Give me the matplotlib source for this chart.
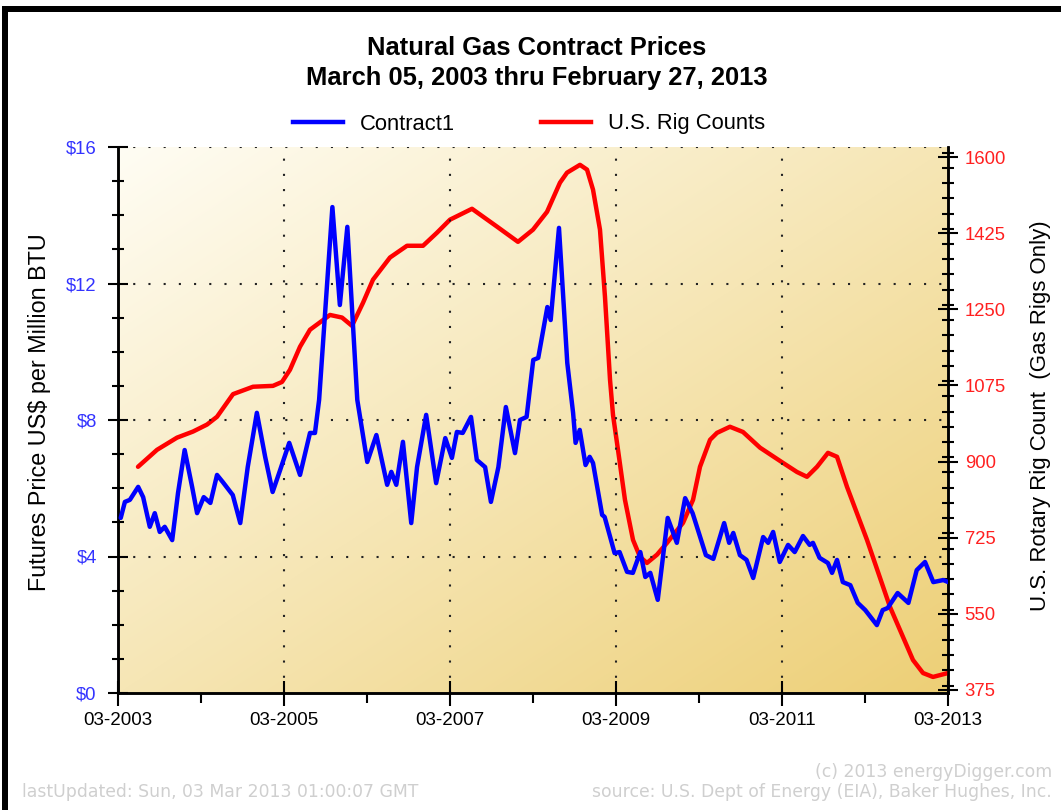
import numpy as np
import matplotlib
matplotlib.use("Agg")
import matplotlib.pyplot as plt
from matplotlib.patches import Rectangle
from matplotlib.lines import Line2D
from matplotlib.ticker import MultipleLocator, FixedLocator

# ---------------- data ----------------
rig_year = [2003.408, 2003.637, 2003.878, 2004.071, 2004.239, 2004.360, 2004.553, 2004.794,
            2005.034, 2005.143, 2005.239, 2005.360, 2005.480, 2005.565, 2005.721, 2005.866,
            2005.986, 2006.119, 2006.239, 2006.444, 2006.649, 2006.842, 2007.010, 2007.167,
            2007.432, 2007.733, 2007.986, 2008.167, 2008.336, 2008.492, 2008.577, 2008.733,
            2008.818, 2008.890, 2008.974, 2009.034, 2009.095, 2009.131, 2009.191, 2009.275,
            2009.372, 2009.456, 2009.540, 2009.661, 2009.781, 2009.974, 2010.095, 2010.179,
            2010.300, 2010.384, 2010.540, 2010.697, 2010.902, 2011.179, 2011.348, 2011.468,
            2011.589, 2011.721, 2011.830, 2011.950, 2012.191, 2012.468, 2012.745, 2012.866,
            2012.986, 2013.167]
rig_count = [888, 927, 955, 969, 985, 1003, 1055, 1072,
             1074, 1083, 1111, 1164, 1203, 1215, 1237, 1231,
             1212, 1265, 1318, 1369, 1396, 1396, 1426, 1456,
             1481, 1440, 1405, 1433, 1474, 1541, 1564, 1582,
             1571, 1525, 1433, 1279, 1088, 1007, 927, 812,
             720, 681, 667, 686, 713, 759, 812, 888,
             950, 966, 980, 968, 932, 897, 876, 865,
             888, 920, 911, 842, 720, 566, 444, 414,
             405, 414]

price_year = [2003.20, 2003.25, 2003.31, 2003.41, 2003.47, 2003.55, 2003.61, 2003.67,
              2003.73, 2003.82, 2003.89, 2003.97, 2004.06, 2004.12, 2004.20, 2004.28,
              2004.36, 2004.43, 2004.55, 2004.64, 2004.73, 2004.84, 2004.94, 2005.03,
              2005.12, 2005.23, 2005.36, 2005.48, 2005.54, 2005.59, 2005.75, 2005.84,
              2005.93, 2006.05, 2006.17, 2006.28, 2006.41, 2006.46, 2006.52, 2006.60,
              2006.70, 2006.77, 2006.88, 2007.00, 2007.11, 2007.19, 2007.25, 2007.32,
              2007.42, 2007.49, 2007.59, 2007.66, 2007.75, 2007.84, 2007.95, 2008.01,
              2008.09, 2008.17, 2008.23, 2008.34, 2008.38, 2008.48, 2008.58, 2008.65,
              2008.68, 2008.73, 2008.80, 2008.85, 2008.89, 2009.00, 2009.03, 2009.15,
              2009.21, 2009.30, 2009.37, 2009.46, 2009.52, 2009.58, 2009.67, 2009.79,
              2009.90, 2010.00, 2010.09, 2010.25, 2010.34, 2010.47, 2010.53, 2010.58,
              2010.66, 2010.74, 2010.82, 2010.94, 2011.00, 2011.06, 2011.14, 2011.24,
              2011.32, 2011.42, 2011.50, 2011.54, 2011.62, 2011.72, 2011.77, 2011.83,
              2011.90, 2011.99, 2012.08, 2012.17, 2012.31, 2012.38, 2012.44, 2012.56,
              2012.69, 2012.79, 2012.89, 2012.99, 2013.11, 2013.17]
price = [5.13, 5.60, 5.66, 6.04, 5.74, 4.87, 5.27, 4.72,
         4.87, 4.48, 5.86, 7.12, 6.04, 5.27, 5.74, 5.57,
         6.39, 6.18, 5.80, 4.98, 6.62, 8.21, 6.92, 5.89,
         6.53, 7.33, 6.39, 7.62, 7.62, 8.59, 14.24, 11.37,
         13.66, 8.59, 6.77, 7.56, 6.10, 6.48, 6.10, 7.36,
         4.98, 6.62, 8.15, 6.15, 7.47, 6.89, 7.65, 7.62,
         8.09, 6.83, 6.62, 5.60, 6.62, 8.38, 7.03, 8.00,
         8.09, 9.76, 9.82, 11.31, 10.93, 13.63, 9.67, 8.21,
         7.33, 7.71, 6.68, 6.92, 6.74, 5.22, 5.16, 4.10,
         4.13, 3.55, 3.52, 4.13, 3.40, 3.52, 2.73, 5.13,
         4.40, 5.71, 5.27, 4.04, 3.93, 4.98, 4.40, 4.69,
         4.04, 3.90, 3.37, 4.57, 4.40, 4.72, 3.84, 4.34,
         4.13, 4.60, 4.34, 4.40, 3.96, 3.81, 3.52, 3.90,
         3.25, 3.16, 2.64, 2.43, 1.99, 2.43, 2.49, 2.93,
         2.64, 3.60, 3.84, 3.25, 3.31, 3.25]

x_major = [2003.167, 2005.167, 2007.167, 2009.167, 2011.167, 2013.167]
x_labels = ["03-2003", "03-2005", "03-2007", "03-2009", "03-2011", "03-2013"]
x_minor = [2004.167, 2006.167, 2008.167, 2010.167, 2012.167]
left_ticks = [0, 4, 8, 12, 16]
left_labels = ["$0", "$4", "$8", "$12", "$16"]
right_ticks = [375, 550, 725, 900, 1075, 1250, 1425, 1600]

title = "Natural Gas Contract Prices\nMarch 05, 2003 thru February 27, 2013"

# ---------------- figure ----------------
W, H = 1061, 810
fig = plt.figure(figsize=(W / 100, H / 100), dpi=100)
fig.patch.set_facecolor("white")
plt.rcParams['font.family'] = ['Liberation Sans', 'DejaVu Sans']

# black frame (top & left)
fig.patches.append(Rectangle((2 / W, 0), 6 / W, 1 - 6 / H, transform=fig.transFigure,
                             facecolor="black", edgecolor="none", zorder=0))
fig.patches.append(Rectangle((2 / W, 1 - 12 / H), 1, 6 / H, transform=fig.transFigure,
                             facecolor="black", edgecolor="none", zorder=0))

ax = fig.add_axes([118 / W, 1 - 693 / H, (948 - 118) / W, (693 - 147) / H])
ax2 = ax.twinx()
ax.set_zorder(ax2.get_zorder() + 1)
ax.patch.set_visible(False)
ax2.patch.set_visible(False)

# gradient background (light top-left -> golden bottom-right)
n = 256
gx, gy = np.meshgrid(np.linspace(0, 1, n), np.linspace(0, 1, n))
g = np.clip((gx + gy) / 2.0, 0, 1)
c0 = np.array([255, 253, 244]) / 255.0
c1 = np.array([237, 207, 118]) / 255.0
img = c0[None, None, :] * (1 - g[..., None]) + c1[None, None, :] * g[..., None]
ax2.imshow(img, extent=[0, 1, 0, 1], transform=ax2.transAxes, aspect="auto",
           origin="upper", zorder=0, interpolation="bilinear")

ax.set_xlim(2003.167, 2013.167)
ax.set_ylim(0, 16)
ax2.set_ylim(375 - 3 * 175 / 76.1, 1600 + 10 * 175 / 76.1)

# grid lines (dotted)
for yv in [4, 8, 12, 16]:
    ax.axhline(yv, color="#222222", lw=1.5, ls=(0, (1, 6.3)), zorder=1)
for xv in x_major[1:-1]:
    ax.axvline(xv, color="#222222", lw=1.5, ls=(0, (1, 6.3)), zorder=1)

# lines
ax2.plot(rig_year, rig_count, color="#ff0000", lw=3.2, solid_joinstyle="round",
         solid_capstyle="round", zorder=3)
ax.plot(price_year, price, color="#0000ff", lw=3.2, solid_joinstyle="round",
        solid_capstyle="round", zorder=4)

# spines
for a in (ax, ax2):
    a.spines["top"].set_visible(False)
    for s in ("left", "right", "bottom"):
        a.spines[s].set_linewidth(1.8)
        a.spines[s].set_color("black")

# ticks
ax.xaxis.set_major_locator(FixedLocator(x_major))
ax.set_xticklabels(x_labels)
ax.xaxis.set_minor_locator(FixedLocator(x_minor))
ax.tick_params(axis="x", which="major", direction="inout", length=18, width=1.5,
               labelsize=13.5, pad=4.5, colors="black")
ax.tick_params(axis="x", which="minor", direction="out", length=7, width=1.5)

ax.yaxis.set_major_locator(FixedLocator(left_ticks))
ax.set_yticklabels(left_labels)
ax.yaxis.set_minor_locator(MultipleLocator(1))
ax.tick_params(axis="y", which="major", direction="inout", length=14, width=1.5,
               labelsize=13.3, labelcolor="#3333ff", pad=8.3)
ax.tick_params(axis="y", which="minor", direction="inout", length=9, width=1.5)

ax2.yaxis.set_major_locator(FixedLocator(right_ticks))
ax2.yaxis.set_minor_locator(MultipleLocator(35))
ax2.tick_params(axis="y", which="major", direction="inout", length=14, width=1.5,
                labelsize=13.3, labelcolor="#ff2020", pad=5)
ax2.tick_params(axis="y", which="minor", direction="inout", length=9, width=1.5)

ax.set_ylabel("Futures Price US$ per Million BTU", fontsize=16.8)
ax.yaxis.set_label_coords((40 - 118) / 830, (693 - 412) / 546)
ax2.set_ylabel("U.S. Rotary Rig Count  (Gas Rigs Only)", fontsize=16)
ax2.yaxis.set_label_coords((1040 - 118) / 830, (693 - 416) / 546)
ax.yaxis.label.set_va("center")
ax2.yaxis.label.set_va("center")

# title
fig.text(537 / W, 1 - 63 / H, title, ha="center", va="center", fontsize=18.4,
         fontweight="bold", linespacing=1.3)

# legend
handles = [Line2D([], [], color="#0000ff", lw=3.2), Line2D([], [], color="#ff0000", lw=3.2)]
fig.legend(handles, ["Contract1", "U.S. Rig Counts"], loc="center",
           bbox_to_anchor=(529 / W, 1 - 124 / H), ncol=2, frameon=False, fontsize=15.8,
           handlelength=2.28, columnspacing=3.9, handletextpad=0.78)

# footer
foot_color = "#cfcfcf"
fig.text(22 / W, 1 - 792 / H, "lastUpdated: Sun, 03 Mar 2013 01:00:07 GMT",
         ha="left", va="center", fontsize=12.4, color=foot_color, family="DejaVu Sans")
fig.text(1052 / W, 1 - 772 / H, "(c) 2013 energyDigger.com",
         ha="right", va="center", fontsize=12.4, color=foot_color, family="DejaVu Sans")
fig.text(1052 / W, 1 - 792 / H, "source: U.S. Dept of Energy (EIA), Baker Hughes, Inc.",
         ha="right", va="center", fontsize=12.4, color=foot_color, family="DejaVu Sans")

fig.savefig("out.png", dpi=100, facecolor="white")
